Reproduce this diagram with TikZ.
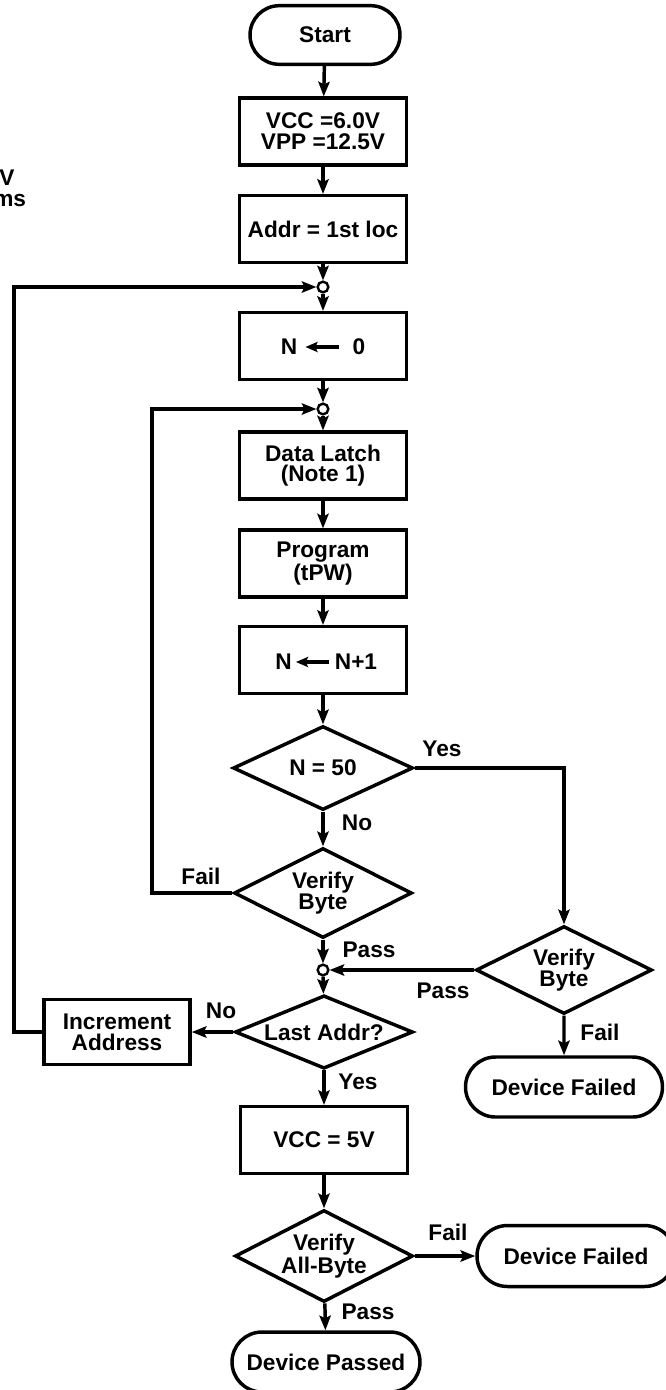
\documentclass[tikz,border=0pt]{standalone}
\usepackage{fontspec}
\setmainfont{Liberation Sans}
\usetikzlibrary{arrows.meta,shapes.geometric,shapes.misc}
\begin{document}
\begin{tikzpicture}[x=0.75pt,y=-0.75pt,
  base/.style={font=\fontsize{17}{15.5}\selectfont\bfseries, align=center, inner sep=0pt, line width=2.6pt},
  box/.style={base, draw, rectangle, minimum width=125pt, minimum height=50pt},
  term/.style={base, draw, rounded rectangle, minimum height=44pt},
  dec/.style={base, draw, diamond, font=\fontsize{17}{14}\selectfont\bfseries},
  jn/.style={draw, circle, line width=1.8pt, minimum size=8pt, inner sep=0pt, fill=white},
  lbl/.style={font=\fontsize{17}{15}\selectfont\bfseries, inner sep=0pt},
  flow/.style={line width=2.6pt, -{Stealth[length=11pt,width=8.5pt,inset=2pt]}},
  glyph/.style={line width=2.6pt, -{Stealth[length=9pt,width=7.5pt,inset=1.5pt]}}
]
\useasboundingbox (0,0) rectangle (665,1390);

% cropped margin text
\node[lbl, anchor=west] (mv) at (-1,178) {V};
\node[lbl, anchor=west] (mms) at (-7,200) {ms};

% main column
\node[term, minimum width=112.5pt] (start) at (325,35) {Start};
\node[box] (vcc) at (323,131.5) {VCC =6.0V\\VPP =12.5V};
\node[box] (addr) at (323,229) {Addr = 1st loc};
\node[jn] (c1) at (323,287) {};
\node[box] (n0) at (323,346) {};
\node[lbl] (n0a) at (289,347) {N};
\node[lbl] (n0b) at (359,347) {0};
\node[jn] (c2) at (323,409) {};
\node[box] (latch) at (323,465.5) {Data Latch\\(Note 1)};
\node[box] (prog) at (323,563.5) {Program\\(tPW)};
\node[box] (nn1) at (323,660) {};
\node[lbl] (nn1a) at (283.5,662) {N};
\node[lbl] (nn1b) at (356,662) {N+1};
\node[dec, aspect=2.14, minimum width=135pt, minimum height=63pt] (n50) at (323,768) {N = 50};
\node[dec, aspect=1.98, minimum width=133.5pt, minimum height=67.5pt] (vb1) at (323,893) {Verify\\Byte};
\node[jn] (c3) at (323,970) {};
\node[dec, aspect=2, minimum width=132pt, minimum height=66pt] (vb2) at (564,970) {Verify\\Byte};
\node[dec, aspect=2.44, minimum width=133.5pt, minimum height=55pt] (last) at (324,1032) {Last Addr?};
\node[box, minimum width=109.5pt, minimum height=48.75pt] (inc) at (117,1032) {Increment\\Address};
\node[term, minimum width=147.75pt, minimum height=45pt] (df1) at (564,1087) {Device Failed};
\node[box] (vcc5) at (324,1140) {VCC = 5V};
\node[dec, aspect=1.93, minimum width=133.5pt, minimum height=69pt] (vab) at (324,1256) {Verify\\All-Byte};
\node[term, minimum width=148.5pt, minimum height=45.75pt] (df2) at (576,1256) {Device Failed};
\node[term, minimum width=141pt, minimum height=45pt] (dp) at (326,1362) {Device Passed};

% loop corner points
\coordinate (lp1) at (14,1032);
\coordinate (lp2) at (152,893);

% connectors
\draw[flow] (start) -- (vcc);
\draw[flow] (vcc) -- (addr);
\draw[flow] (addr) -- (c1);
\draw[flow] (c1) -- (n0);
\draw[flow] (inc.west) -- (lp1) |- (c1);
\draw[flow] (n0) -- (c2);
\draw[flow] (c2) -- (latch);
\draw[flow] (vb1.west) -- (lp2) |- (c2);
\draw[flow] (latch) -- (prog);
\draw[flow] (prog) -- (nn1);
\draw[flow] (nn1) -- (n50);
\draw[flow] (n50) -- (vb1);
\draw[flow] (n50.east) -| (vb2.north);
\draw[flow] (vb1) -- (c3);
\draw[flow] (vb2.west) -- (c3);
\draw[flow] (c3) -- (last);
\draw[flow] (vb2) -- (df1);
\draw[flow] (last.west) -- (inc.east);
\draw[flow] (last) -- (vcc5);
\draw[flow] (vcc5) -- (vab);
\draw[flow] (vab.east) -- (df2.west);
\draw[flow] (vab) -- (dp);

% assignment arrows inside boxes
\draw[glyph, shorten <=10pt, shorten >=6pt] (n0b.west) -- (n0a.east);
\draw[glyph, shorten <=4pt, shorten >=3pt] (nn1b.west) -- (nn1a.east);

% labels
\node[lbl] (yes1) at (442,749) {Yes};
\node[lbl] (no1) at (357,823) {No};
\node[lbl] (fail1) at (201,876) {Fail};
\node[lbl] (pass1) at (369,950) {Pass};
\node[lbl] (pass2) at (443,991) {Pass};
\node[lbl] (no2) at (221,1011) {No};
\node[lbl] (yes2) at (358,1082) {Yes};
\node[lbl] (fail2) at (600,1032) {Fail};
\node[lbl] (fail3) at (448,1232) {Fail};
\node[lbl] (pass3) at (368,1312) {Pass};
\end{tikzpicture}
\end{document}
